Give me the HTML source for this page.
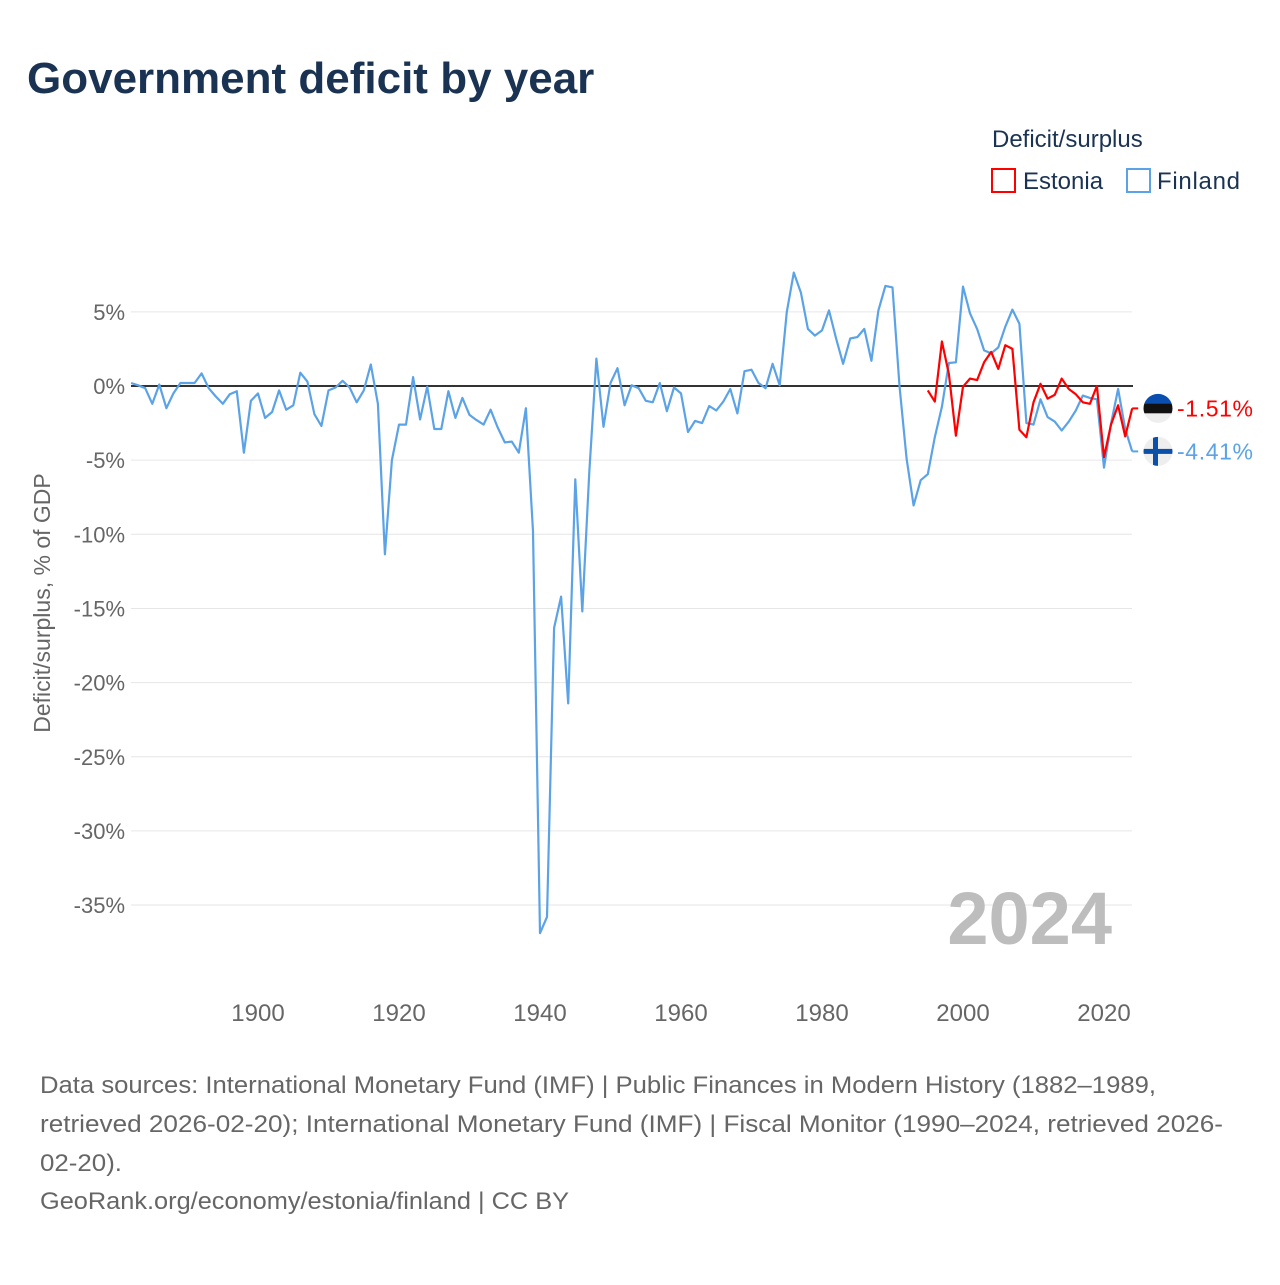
<!DOCTYPE html>
<html><head><meta charset="utf-8"><style>
body{margin:0;background:#fff;font-family:"Liberation Sans",sans-serif;}
svg text{font-family:"Liberation Sans",sans-serif;}
</style></head><body>
<svg width="1280" height="1280" xmlns="http://www.w3.org/2000/svg" id="chart">
<text x="27" y="93" font-size="44" font-weight="bold" fill="#1b3352">Government deficit by year</text>
<text x="992" y="147" font-size="24" fill="#1b3352">Deficit/surplus</text>
<g><rect x="992" y="169" width="23" height="23" fill="none" stroke="#ff0000" stroke-width="2"/><text x="1023" y="189" font-size="24" fill="#1b3352">Estonia</text></g>
<g><rect x="1127" y="169" width="23" height="23" fill="none" stroke="#5ba3e6" stroke-width="2"/><text x="1157" y="189" font-size="24" fill="#1b3352" textLength="83">Finland</text></g>
<g id="grid"></g><g id="yticks"></g><g id="xticks"></g>
<text x="1112" y="944" font-size="74" font-weight="bold" fill="#bdbdbd" text-anchor="end">2024</text>
<text transform="translate(50,603) rotate(-90)" font-size="23" fill="#666" text-anchor="middle">Deficit/surplus, % of GDP</text>
<g id="series"></g>
<g font-size="24" fill="#666">
<text x="40" y="1093" textLength="1116" lengthAdjust="spacingAndGlyphs">Data sources: International Monetary Fund (IMF) | Public Finances in Modern History (1882–1989,</text>
<text x="40" y="1132" textLength="1183" lengthAdjust="spacingAndGlyphs">retrieved 2026-02-20); International Monetary Fund (IMF) | Fiscal Monitor (1990–2024, retrieved 2026-</text>
<text x="40" y="1171" textLength="82" lengthAdjust="spacingAndGlyphs">02-20).</text>
<text x="40" y="1209" textLength="529" lengthAdjust="spacingAndGlyphs">GeoRank.org/economy/estonia/finland | CC BY</text>
</g>
</svg>
<script>
const finlandStart = 1882;
const finland = [0.2,0.05,-0.15,-1.2,0.1,-1.5,-0.5,0.2,0.2,0.2,0.85,-0.15,-0.7,-1.2,-0.55,-0.35,-4.5,-1.0,-0.5,-2.15,-1.75,-0.3,-1.6,-1.3,0.9,0.3,-1.9,-2.7,-0.3,-0.1,0.35,-0.1,-1.1,-0.3,1.45,-1.2,-11.35,-5.0,-2.6,-2.6,0.6,-2.25,-0.05,-2.9,-2.9,-0.35,-2.15,-0.8,-1.95,-2.3,-2.6,-1.6,-2.8,-3.8,-3.75,-4.5,-1.5,-9.8,-36.9,-35.8,-16.3,-14.2,-21.4,-6.3,-15.2,-5.8,1.85,-2.75,0.2,1.2,-1.3,0.05,-0.15,-1.0,-1.1,0.2,-1.7,-0.1,-0.5,-3.1,-2.35,-2.5,-1.35,-1.65,-1.05,-0.2,-1.85,1.0,1.1,0.2,-0.15,1.5,0.05,5.0,7.65,6.3,3.85,3.4,3.75,5.1,3.2,1.5,3.2,3.3,3.85,1.7,5.1,6.75,6.65,0.0,-4.9,-8.05,-6.35,-5.95,-3.45,-1.4,1.55,1.6,6.7,4.9,3.85,2.4,2.2,2.6,4.0,5.15,4.2,-2.5,-2.6,-0.9,-2.1,-2.4,-3.0,-2.4,-1.65,-0.65,-0.8,-0.9,-5.5,-2.55,-0.2,-2.9,-4.41];
const estoniaStart = 1995;
const estonia = [-0.3,-1.05,3.0,0.8,-3.35,-0.05,0.5,0.4,1.6,2.3,1.15,2.75,2.5,-2.95,-3.45,-1.1,0.15,-0.85,-0.6,0.5,-0.2,-0.55,-1.1,-1.2,0.0,-4.8,-2.6,-1.3,-3.4,-1.51];
const yTicks = [5,0,-5,-10,-15,-20,-25,-30,-35];
const xTicks = [1900,1920,1940,1960,1980,2000,2020];
const NS="http://www.w3.org/2000/svg";
const X = y => 258 + (y-1900)*7.05;
const Y = v => 386 - v*14.83;
function mk(tag, attrs, parent){const e=document.createElementNS(NS,tag);for(const k in attrs)e.setAttribute(k,attrs[k]);parent.appendChild(e);return e;}
const grid=document.getElementById('grid'), yt=document.getElementById('yticks'), xt=document.getElementById('xticks'), ser=document.getElementById('series');
yTicks.forEach(v=>{
  if(v!==0){const g=mk('line',{x1:131,x2:1132,y1:Y(v),y2:Y(v),stroke:'#e6e6e6','stroke-width':1},grid);
  
  }
  const t=mk('text',{x:125,y:Y(v)+8,'font-size':22,fill:'#666','text-anchor':'end'},yt);
  t.textContent=v+'%';
  
  
});
xTicks.forEach(yr=>{
  const t=mk('text',{x:X(yr),y:1021,'font-size':24,fill:'#666','text-anchor':'middle'},xt);
  t.textContent=yr;
  
  
});
const zl=mk('line',{x1:131,x2:1133,y1:Y(0),y2:Y(0),stroke:'#333','stroke-width':2},grid);


function series(data,start,color,name){
  const pts=data.map((v,i)=>X(start+i).toFixed(1)+','+Y(v).toFixed(1));
  const p=mk('polyline',{points:pts.join(' '),fill:'none',stroke:color,'stroke-width':2.2,'stroke-linejoin':'round'},ser);
  
  
}
series(finland,finlandStart,'#5ba3e6','finland');
series(estonia,estoniaStart,'#ff0000','estonia');
function endLabel(v,color,name,flag){
  const y=Y(v), xe=X(2024);
  mk('polyline',{points:`${xe},${y} ${xe+6},${y}`,fill:'none',stroke:color,'stroke-width':2},ser);
  const g=mk('g',{},ser);
  
  
  const cx=1158;
  const cp=mk('clipPath',{id:'c'+name},g);mk('circle',{cx:cx,cy:y,r:14.5},cp);
  const gg=mk('g',{'clip-path':`url(#c${name})`},g);
  if(flag==='ee'){mk('rect',{x:cx-15,y:y-15,width:30,height:10,fill:'#0a4fb0'},gg);mk('rect',{x:cx-15,y:y-5,width:30,height:10,fill:'#111'},gg);mk('rect',{x:cx-15,y:y+5,width:30,height:10,fill:'#eee'},gg);}
  else{mk('rect',{x:cx-15,y:y-15,width:30,height:30,fill:'#eee'},gg);mk('rect',{x:cx-15,y:y-2.5,width:30,height:5,fill:'#0b50a8'},gg);mk('rect',{x:cx-5,y:y-15,width:5,height:30,fill:'#0b50a8'},gg);}
  const t=mk('text',{x:1177,y:y+8,'font-size':23,fill:color,textLength:76},ser);
  t.textContent=v.toFixed(2)+'%';
  
  
}
endLabel(estonia[estonia.length-1],'#ff0000','estonia','ee');
endLabel(finland[finland.length-1],'#5ba3e6','finland','fi');
</script>
</body></html>
